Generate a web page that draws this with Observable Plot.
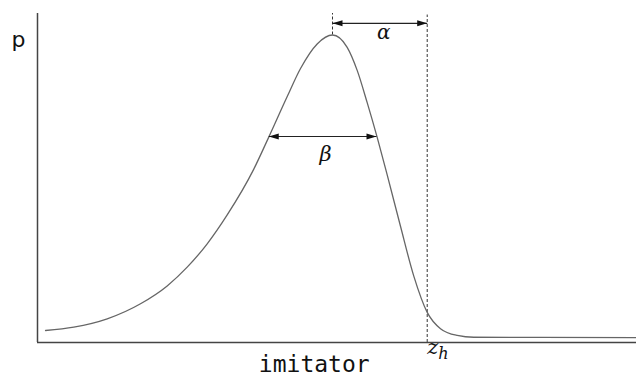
<!DOCTYPE html>
<html>
<head>
<meta charset="utf-8">
<script src="https://cdn.jsdelivr.net/npm/d3@7"></script>
<script src="https://cdn.jsdelivr.net/npm/@observablehq/plot@0.6"></script>
<style>
  html, body { margin: 0; padding: 0; background: #fff; }
</style>
</head>
<body>
<div id="chart"></div>
<script>
// Curve: imitator position (x) vs p (y)
const imitator = [0.134, 0.606, 1.164, 1.720, 2.165, 2.499, 2.833, 3.167, 3.611, 3.861, 4.169, 4.391, 4.669, 4.925, 5.170, 5.337, 5.504, 5.671, 5.838, 6.060, 6.282, 6.506, 6.728, 7.007, 7.284, 10.0];
const p        = [0.039, 0.050, 0.077, 0.126, 0.184, 0.245, 0.321, 0.415, 0.564, 0.668, 0.800, 0.891, 0.971, 1.000, 0.960, 0.885, 0.780, 0.667, 0.545, 0.378, 0.216, 0.098, 0.045, 0.023, 0.017, 0.016];

// Key values
const peakX = 4.925;   // mode of the curve
const zh = 6.506;      // threshold z_h
const betaLeft = 3.861, betaRight = 5.659, betaLevel = 0.670;
const alphaLevel = 1.038;
const topLevel = 1.065;

const curve = imitator.map((x, i) => ({x, p: p[i]}));

// filled arrow-head symbol, tip at origin, pointing right
const head = {
  draw(ctx) {
    ctx.moveTo(0, 0);
    ctx.lineTo(-10, -3);
    ctx.lineTo(-10, 3);
    ctx.closePath();
  }
};

const arrows = [
  {x1: peakX, x2: zh, y: alphaLevel},
  {x1: betaLeft, x2: betaRight, y: betaLevel}
];
const heads = arrows.flatMap(a => [{x: a.x1, y: a.y, r: 180}, {x: a.x2, y: a.y, r: 0}]);

const chart = Plot.plot({
  width: 636,
  height: 382,
  marginLeft: 37,
  marginRight: 0,
  marginTop: 13,
  marginBottom: 40,
  x: {domain: [0, 10], axis: null},
  y: {domain: [0, 1.07], axis: null},
  style: {background: "#fff"},
  marks: [
    // dashed guides
    Plot.ruleX([zh], {y1: 0, y2: topLevel, stroke: "#333", strokeWidth: 1, strokeDasharray: "3,2"}),
    Plot.ruleX([peakX], {y1: 1.0, y2: 1.07, stroke: "#333", strokeWidth: 1, strokeDasharray: "3,2"}),
    // curve
    Plot.line(curve, {x: "x", y: "p", curve: "monotone-x", stroke: "#666", strokeWidth: 1.3}),
    // arrows
    Plot.link(arrows, {x1: "x1", x2: "x2", y1: "y", y2: "y", stroke: "#222", strokeWidth: 1.2}),
    Plot.dot(heads, {x: "x", y: "y", rotate: "r", symbol: head, r: 1, fill: "#111", stroke: "none"}),
    // axes lines
    Plot.ruleX([0], {stroke: "#444", strokeWidth: 1.5}),
    Plot.ruleY([0], {stroke: "#444", strokeWidth: 1.5}),
    // labels
    Plot.text(["α"], {x: 5.78, y: 1.008, text: d => d, fontFamily: "DejaVu Serif", fontStyle: "italic", fontSize: 20, fill: "#111"}),
    Plot.text(["β"], {x: 4.81, y: 0.612, text: d => d, fontFamily: "DejaVu Serif", fontStyle: "italic", fontSize: 21, fill: "#111"}),
    Plot.text(["p"], {x: -0.317, y: 0.985, text: d => d, fontFamily: "DejaVu Sans", fontSize: 22, fill: "#111"}),
    Plot.text(["imitator"], {x: 4.62, frameAnchor: "bottom", dy: 29, text: d => d, fontFamily: "DejaVu Sans Mono", fontSize: 23, fill: "#111"}),
    Plot.text(["z"], {x: zh, frameAnchor: "bottom", dy: 11, dx: 0, textAnchor: "start", text: d => d, fontFamily: "DejaVu Serif", fontStyle: "italic", fontSize: 21, fill: "#111"}),
    Plot.text(["h"], {x: zh, frameAnchor: "bottom", dy: 16, dx: 11, textAnchor: "start", text: d => d, fontFamily: "DejaVu Serif", fontStyle: "italic", fontSize: 16, fill: "#111"})
  ]
});

document.getElementById("chart").appendChild(chart);
</script>
</body>
</html>
